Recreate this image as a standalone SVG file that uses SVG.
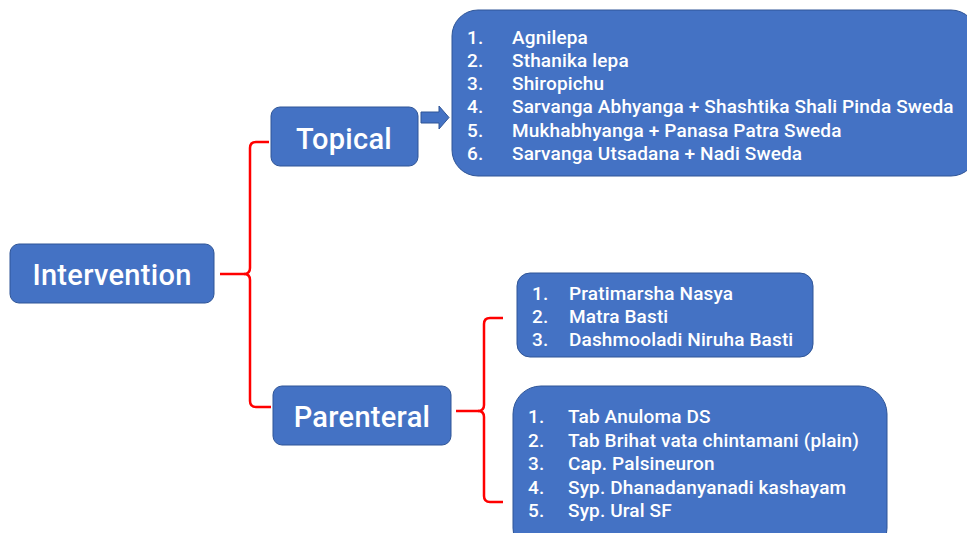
<svg xmlns="http://www.w3.org/2000/svg" width="967" height="533" viewBox="0 0 967 533">
<style>
.box{fill:#4472C4;stroke:#2F5597;stroke-width:1}
.t{font-family:Roboto,"Liberation Sans",sans-serif;fill:#fff;font-weight:500}
.big{font-size:29px;text-anchor:middle;letter-spacing:0.3px}
.li{font-size:19px;letter-spacing:0.15px}
.br{fill:none;stroke:#FF0000;stroke-width:2.5}
</style>
<rect width="967" height="533" fill="#fff"/>
<g id="connectors">
<path class="br" d="M220,274 H244 Q250,274 250,268 V148 Q250,142 256,142 H269"/>
<path class="br" d="M244,274 Q250,274 250,280 V401 Q250,407 256,407 H271"/>
<path class="br" d="M456,411 H478 Q484,411 484,405 V324 Q484,318 490,318 H503"/>
<path class="br" d="M478,411 Q484,411 484,417 V496 Q484,502 490,502 H503"/>
<path d="M421,112 H439 V106 L449,117.5 L439,129 V123 H421 Z" fill="#4472C4" stroke="#2F5597" stroke-width="1"/>
</g>
<g id="intervention">
<rect class="box" x="10" y="244" width="204" height="59" rx="9"/>
<text class="t big" x="112" y="285">Intervention</text>
</g>
<g id="topical">
<rect class="box" x="271" y="107" width="147" height="59" rx="9"/>
<text class="t big" x="344" y="149">Topical</text>
</g>
<g id="parenteral">
<rect class="box" x="273" y="386" width="178" height="59" rx="9"/>
<text class="t big" x="362" y="427">Parenteral</text>
</g>
<g id="topical-list">
<rect class="box" x="452" y="10" width="525" height="166" rx="26"/>
<g class="t li">
<text x="467" y="44">1.</text><text x="512" y="44">Agnilepa</text>
<text x="467" y="67">2.</text><text x="512" y="67">Sthanika lepa</text>
<text x="467" y="90">3.</text><text x="512" y="90">Shiropichu</text>
<text x="467" y="113">4.</text><text x="512" y="113">Sarvanga Abhyanga + Shashtika Shali Pinda Sweda</text>
<text x="467" y="137">5.</text><text x="512" y="137">Mukhabhyanga + Panasa Patra Sweda</text>
<text x="467" y="160">6.</text><text x="512" y="160">Sarvanga Utsadana + Nadi Sweda</text>
</g>
</g>
<g id="procedures">
<rect class="box" x="517" y="273" width="296" height="84" rx="13"/>
<g class="t li">
<text x="532" y="300">1.</text><text x="569" y="300">Pratimarsha Nasya</text>
<text x="532" y="323">2.</text><text x="569" y="323">Matra Basti</text>
<text x="532" y="346">3.</text><text x="569" y="346">Dashmooladi Niruha Basti</text>
</g>
</g>
<g id="medicines">
<rect class="box" x="513" y="386" width="374" height="170" rx="28"/>
<g class="t li">
<text x="528" y="423">1.</text><text x="568" y="423">Tab Anuloma DS</text>
<text x="528" y="447">2.</text><text x="568" y="447">Tab Brihat vata chintamani (plain)</text>
<text x="528" y="470">3.</text><text x="568" y="470">Cap. Palsineuron</text>
<text x="528" y="494">4.</text><text x="568" y="494">Syp. Dhanadanyanadi kashayam</text>
<text x="528" y="517">5.</text><text x="568" y="517">Syp. Ural SF</text>
</g>
</g>
</svg>
